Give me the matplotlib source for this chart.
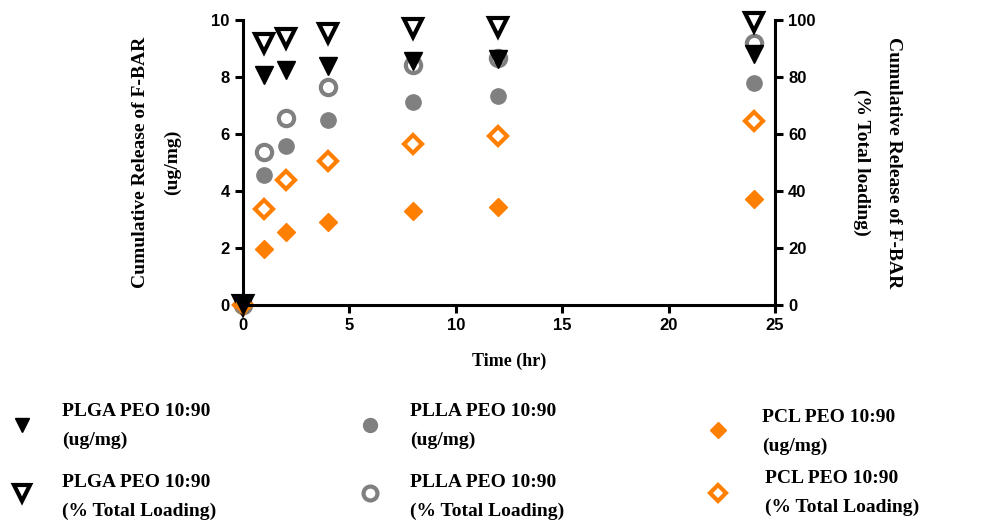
import matplotlib
matplotlib.use("Agg")
import matplotlib.pyplot as plt
from matplotlib.lines import Line2D

# time points (hr)
time = [0, 1, 2, 4, 8, 12, 24]

# cumulative release, ug/mg (left axis)
plga_ug = [0, 8.07, 8.25, 8.40, 8.56, 8.63, 8.82]
plla_ug = [0, 4.56, 5.58, 6.50, 7.12, 7.33, 7.79]
pcl_ug = [0, 1.96, 2.56, 2.91, 3.30, 3.44, 3.72]

# cumulative release, % total loading (right axis)
plga_pct = [0, 91.9, 93.7, 95.4, 97.2, 97.6, 99.3]
plla_pct = [0, 53.7, 65.6, 76.5, 84.2, 86.7, 91.9]
pcl_pct = [0, 33.7, 43.9, 50.5, 56.5, 59.3, 64.6]

black = "#000000"
grey = "#808080"
orange = "#ff8000"

serif = {"family": "Liberation Serif", "weight": "bold"}
plt.rcParams["font.family"] = "Liberation Sans"
plt.rcParams["font.weight"] = "bold"

W, H = 1006, 527
fig = plt.figure(figsize=(W / 100, H / 100), dpi=100)
ax = fig.add_axes([243 / W, 1 - 305 / H, 532 / W, 285 / H])
ax2 = ax.twinx()
# filled (ug/mg) markers on top of the open (%) markers
ax.set_zorder(ax2.get_zorder() + 1)
ax.patch.set_visible(False)

ms = 11
ax2.plot(time, plla_pct, "o", mfc="white", mec=grey, mew=3, ms=ms, clip_on=False)
ax2.plot(time, pcl_pct, "D", mfc="white", mec=orange, mew=3, ms=ms - 2, clip_on=False)
ax2.plot(time, plga_pct, "v", mfc="white", mec=black, mew=3, ms=ms + 2, clip_on=False)

ax.plot(time, plla_ug, "o", color=grey, ms=ms, mec=grey, clip_on=False)
ax.plot(time, pcl_ug, "D", color=orange, ms=ms - 2, mec=orange, clip_on=False)
ax.plot(time, plga_ug, "v", color=black, ms=ms + 2, clip_on=False)

ax.set_xlim(0, 25)
ax.set_ylim(0, 10)
ax2.set_ylim(0, 100)
ax.set_xticks([0, 5, 10, 15, 20, 25])
ax.set_yticks([0, 2, 4, 6, 8, 10])
ax2.set_yticks([0, 20, 40, 60, 80, 100])

for a in (ax, ax2):
    a.spines["top"].set_visible(False)
    for s in ("left", "right", "bottom"):
        a.spines[s].set_linewidth(2.2)
    a.tick_params(width=2.2, length=6, labelsize=12)
ax.spines["right"].set_visible(False)
ax2.spines["left"].set_visible(False)
ax2.spines["bottom"].set_visible(False)

ax.set_xlabel("Time (hr)", fontdict=serif, fontsize=13, labelpad=14)
ax.set_ylabel("Cumulative Release of F-BAR\n(ug/mg)", fontdict=serif, fontsize=14,
              labelpad=22, linespacing=2.1)
ax2.set_ylabel("Cumulative Release of F-BAR\n(% Total loading)", fontdict=serif,
               fontsize=14, rotation=270, labelpad=62, linespacing=2.1)

# legend, laid out by hand in three columns
leg_styles = [
    dict(marker="v", color=black, ms=10),
    dict(marker="v", mfc="white", mec=black, mew=3, ms=12),
    dict(marker="o", color=grey, ms=10),
    dict(marker="o", mfc="white", mec=grey, mew=3, ms=10),
    dict(marker="D", color=orange, ms=8),
    dict(marker="D", mfc="white", mec=orange, mew=3, ms=8),
]
labels = [
    "PLGA PEO 10:90\n(ug/mg)",
    "PLGA PEO 10:90\n(% Total Loading)",
    "PLLA PEO 10:90\n(ug/mg)",
    "PLLA PEO 10:90\n(% Total Loading)",
    "PCL PEO 10:90\n(ug/mg)",
    "PCL PEO 10:90\n(% Total Loading)",
]
mark_x = [22, 22, 370, 370, 718, 718]
text_x = [62, 62, 410, 410, 762, 765]
mark_y = [425, 493, 425, 493, 430, 493]
text_y = [426, 497, 426, 497, 432, 493]
for st, lab, mx, my, tx, ty in zip(leg_styles, labels, mark_x, mark_y, text_x, text_y):
    fig.add_artist(Line2D([mx / W], [1 - my / H], ls="", transform=fig.transFigure, **st))
    fig.text(tx / W, 1 - ty / H, lab, fontdict=serif, fontsize=14, va="center",
             ha="left", linespacing=1.9)

fig.savefig("out.png", dpi=100)
